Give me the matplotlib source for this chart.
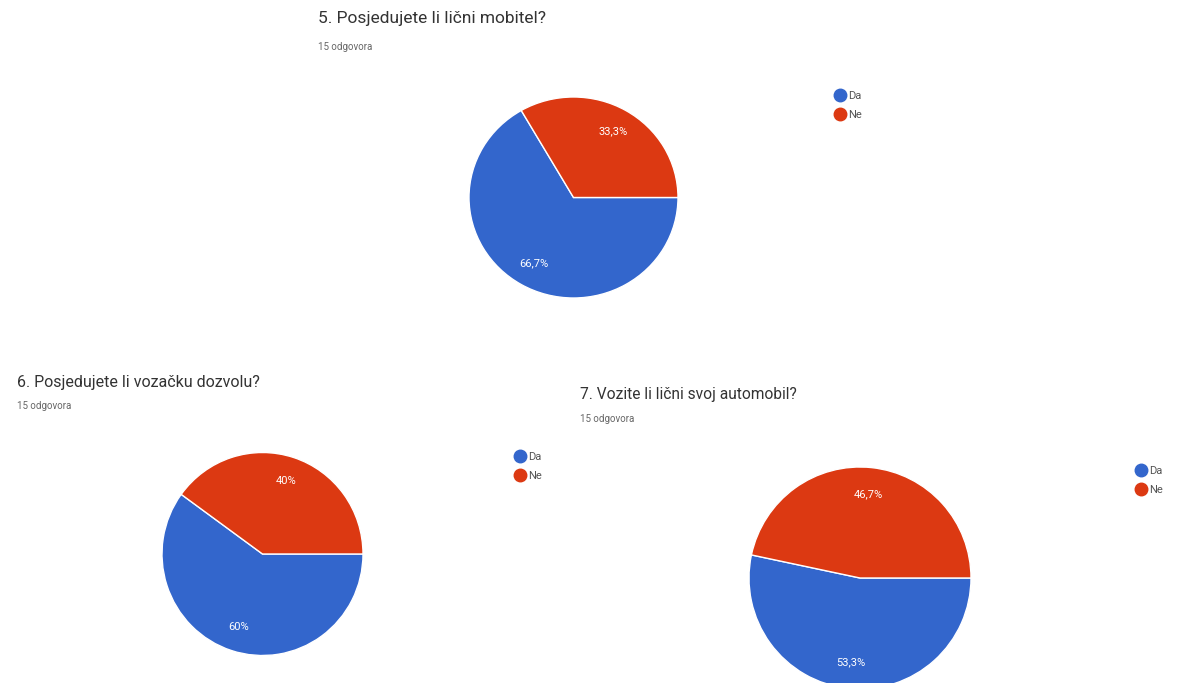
import matplotlib
matplotlib.use('Agg')
import matplotlib.pyplot as plt
from matplotlib.lines import Line2D

plt.rcParams['font.family'] = ['Roboto', 'DejaVu Sans']

# survey data (15 answers each)
questions = ['5. Posjedujete li lični mobitel?',
             '6. Posjedujete li vozačku dozvolu?',
             '7. Vozite li lični svoj automobil?']
answers_note = '15 odgovora'
categories = ['Da', 'Ne']
da_counts = [10, 9, 8]
ne_counts = [5, 6, 7]

colors = ['#3366cc', '#dc3912']

W, H = 1189, 683
fig = plt.figure(figsize=(W / 100, H / 100), dpi=100)


def fx(x):
    return x / W


def fy(y):
    return 1 - y / H


def pct_fmt(p):
    s = f'{p:.1f}'
    if s.endswith('.0'):
        s = s[:-2]
    return s.replace('.', ',') + '%'


# layout in pixels: pie centre/radii, title position + size, legend position
pies = [
    dict(c=(573.5, 197.5), r=(104.5, 100.5), t=(318, 19), ts=12.5, s=(318, 47), leg=(840, 98)),
    dict(c=(262.5, 554), r=(100.5, 101.5), t=(17, 382), ts=11.5, s=(17, 406), leg=(520, 459)),
    dict(c=(860, 578), r=(111, 111), t=(580, 395), ts=11.2, s=(580, 419), leg=(1141, 473)),
]

for i, cfg in enumerate(pies):
    cx, cy = cfg['c']
    rx, ry = cfg['r']
    ax = fig.add_axes([fx(cx - rx), fy(cy + ry), 2 * rx / W, 2 * ry / H])
    vals = [da_counts[i], ne_counts[i]]
    wedges, _, autotexts = ax.pie(vals, colors=colors, startangle=0, counterclock=False,
                                  autopct=pct_fmt, pctdistance=0.76, radius=1,
                                  wedgeprops=dict(edgecolor='white', linewidth=1),
                                  textprops=dict(color='white', fontsize=8))
    ax.set_xlim(-1, 1)
    ax.set_ylim(-1, 1)
    ax.set_aspect('auto')
    ax.axis('off')

    tx, ty = cfg['t']
    fig.text(fx(tx), fy(ty), questions[i], fontsize=cfg['ts'], color='#333333',
             va='center', ha='left')
    sx, sy = cfg['s']
    fig.text(fx(sx), fy(sy), answers_note, fontsize=7, color='#666666',
             va='center', ha='left')

    lx, ly = cfg['leg']
    handles = [Line2D([], [], marker='o', ls='', color=c, markersize=9) for c in colors]
    ax.legend(handles, categories, loc='upper left',
              bbox_to_anchor=(fx(lx - 6), fy(ly - 7)), bbox_transform=fig.transFigure,
              frameon=False, fontsize=8, labelcolor='#555555', handlelength=1.0,
              handletextpad=0.3, borderpad=0, borderaxespad=0, labelspacing=0.8)

fig.savefig('out.png', dpi=100, facecolor='white')
